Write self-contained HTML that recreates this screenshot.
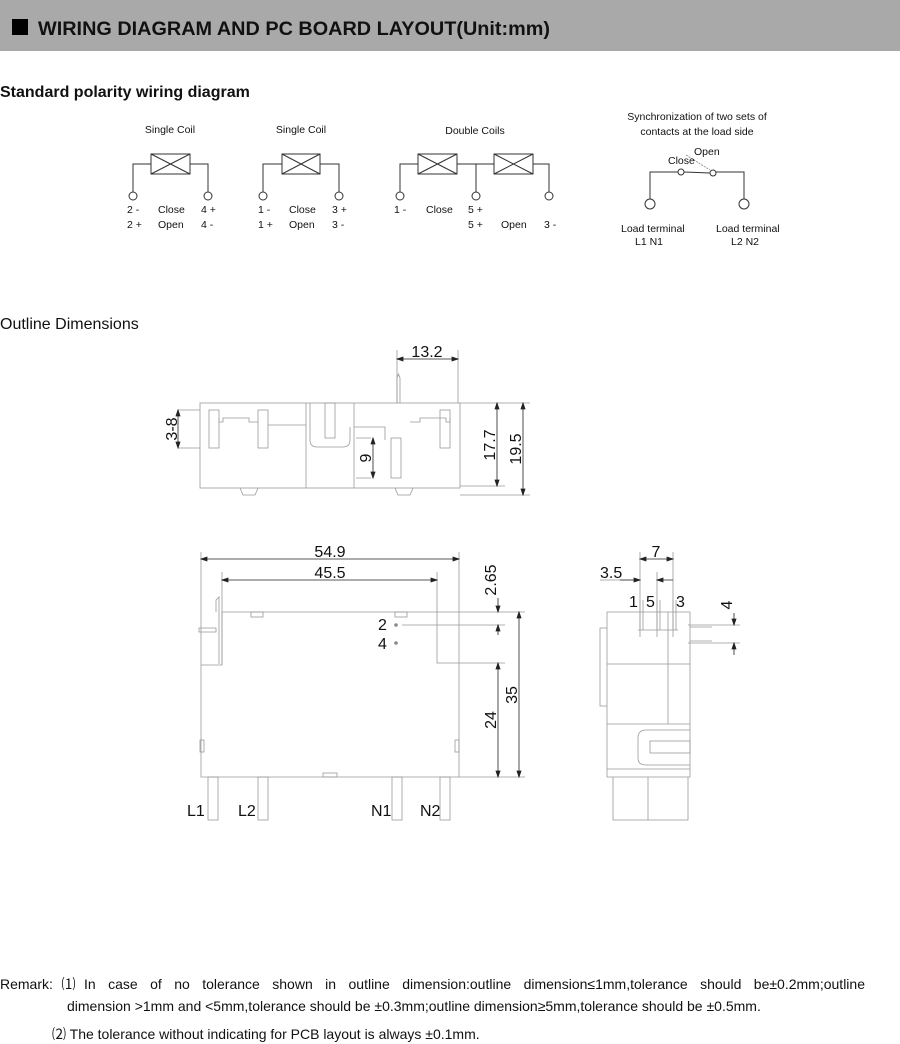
<!DOCTYPE html>
<html><head><meta charset="utf-8"><style>
body{margin:0;background:#fff;width:900px;height:1041px;overflow:hidden;font-family:"Liberation Sans",Arial,sans-serif}
svg{position:absolute;left:0;top:0}
.r{position:absolute;font-size:14px;color:#111;white-space:nowrap}
</style></head><body>
<svg width="900" height="1041" viewBox="0 0 900 1041" font-family="Liberation Sans, Arial, sans-serif">
<rect x="0" y="0" width="900" height="51" fill="#a9a9a9"/>
<rect x="12" y="19" width="16" height="16" fill="#000"/>
<text x="38" y="35" font-size="19" font-weight="bold" fill="#111" textLength="512" lengthAdjust="spacingAndGlyphs">WIRING DIAGRAM AND PC BOARD LAYOUT(Unit:mm)</text>
<text x="0" y="97" font-size="16" font-weight="bold" fill="#111">Standard polarity wiring diagram</text>

<g stroke="#333" stroke-width="1" fill="none">
<rect x="151" y="154" width="39" height="20"/><path d="M151 154L190 174M151 174L190 154"/>
<path d="M151 164H133V192M190 164H208V192"/>
<circle cx="133" cy="196" r="4"/><circle cx="208" cy="196" r="4"/>
<rect x="282" y="154" width="38" height="20"/><path d="M282 154L320 174M282 174L320 154"/>
<path d="M282 164H263V192M320 164H339V192"/>
<circle cx="263" cy="196" r="4"/><circle cx="339" cy="196" r="4"/>
<rect x="418" y="154" width="39" height="20"/><path d="M418 154L457 174M418 174L457 154"/>
<rect x="494" y="154" width="39" height="20"/><path d="M494 154L533 174M494 174L533 154"/>
<path d="M418 164H400V192M457 164H494M476 164V192M533 164H549V192"/>
<circle cx="400" cy="196" r="4"/><circle cx="476" cy="196" r="4"/><circle cx="549" cy="196" r="4"/>
<path d="M650 199V172H678M684 172L710 173M716 172H744V199"/>
<circle cx="681" cy="172" r="3"/><circle cx="713" cy="173" r="3"/>
<circle cx="650" cy="204" r="5"/><circle cx="744" cy="204" r="5"/>
<path d="M686 155L710 170" stroke="#999" stroke-dasharray="2,1"/>
</g>
<g font-size="10.5" fill="#111">
<text x="170" y="133" text-anchor="middle">Single Coil</text>
<text x="301" y="133" text-anchor="middle">Single Coil</text>
<text x="475" y="134" text-anchor="middle">Double Coils</text>
<text x="127" y="213">2 -</text><text x="158" y="213">Close</text><text x="201" y="213">4 +</text>
<text x="127" y="228">2 +</text><text x="158" y="228">Open</text><text x="201" y="228">4 -</text>
<text x="258" y="213">1 -</text><text x="289" y="213">Close</text><text x="332" y="213">3 +</text>
<text x="258" y="228">1 +</text><text x="289" y="228">Open</text><text x="332" y="228">3 -</text>
<text x="394" y="213">1 -</text><text x="426" y="213">Close</text><text x="468" y="213">5 +</text>
<text x="468" y="228">5 +</text><text x="501" y="228">Open</text><text x="544" y="228">3 -</text>
<text x="697" y="120" text-anchor="middle">Synchronization of two sets of</text>
<text x="697" y="135" text-anchor="middle">contacts at the load side</text>
<text x="668" y="164">Close</text><text x="694" y="155">Open</text>
<text x="621" y="232">Load terminal</text><text x="635" y="245">L1   N1</text>
<text x="716" y="232">Load terminal</text><text x="731" y="245">L2   N2</text>
</g>

<text x="0" y="329" font-size="16" fill="#111">Outline Dimensions</text>

<g stroke="#999" stroke-width="0.8" fill="none">
<rect x="200" y="403" width="260" height="85"/>
<path d="M306 403V488M354 403V488"/>
<path d="M200 410H178M200 448H178M371 438H356M371 478H356M460 403H530M460 486H505M460 495H530M397 350V403M458 350V403"/>
<path d="M397 403V378L398.5 374L400 378V403"/>
<rect x="209" y="410" width="10" height="38"/><rect x="258" y="410" width="10" height="38"/>
<rect x="440" y="410" width="10" height="38"/><rect x="325" y="403" width="10" height="35"/>
<rect x="391" y="438" width="10" height="40"/>
<path d="M219 418V422H223V418H249V422H258M268 425H306M354 427H385V440M450 418V422H446V418H420V422H410M310 403V440Q310 447 317 447H343Q350 447 350 440V427"/>
<path d="M240 488L243 495H255L258 488M395 488L398 495H410L413 488"/>
</g>
<g stroke="#222" stroke-width="0.8" fill="#222">
<path d="M397 359H458"/><path d="M397 359l6-2v4zM458 359l-6-2v4z"/>
<path d="M178 410V448"/><path d="M178 410l-2 6h4zM178 448l-2-6h4z"/>
<path d="M373 438V478"/><path d="M373 438l-2 6h4zM373 478l-2-6h4z"/>
<path d="M497 403V486"/><path d="M497 403l-2 6h4zM497 486l-2-6h4z"/>
<path d="M523 403V495"/><path d="M523 403l-2 6h4zM523 495l-2-6h4z"/>
</g>
<g font-size="16" fill="#111">
<text x="427" y="357" text-anchor="middle">13.2</text>
<text transform="translate(177 429) rotate(-90)" text-anchor="middle">3-8</text>
<text transform="translate(371 458) rotate(-90)" text-anchor="middle">9</text>
<text transform="translate(495 445) rotate(-90)" text-anchor="middle">17.7</text>
<text transform="translate(521 449) rotate(-90)" text-anchor="middle">19.5</text>
</g>

<g stroke="#999" stroke-width="0.8" fill="none">
<path d="M222 612H437V663H459V777H201V665H222Z"/>
<path d="M222 612V665M201 552V665M459 552V663M222 572V612M437 572V612M437 612H525M459 663H505M459 777H525M402 625H505"/>
<path d="M216 612V600L219 597V664"/><path d="M199 628H216V632H199Z"/>
<rect x="251" y="612" width="12" height="5"/><rect x="395" y="612" width="12" height="5"/>
<rect x="323" y="773" width="14" height="4"/><rect x="200" y="740" width="4" height="12"/><rect x="455" y="740" width="4" height="12"/>
<rect x="208" y="777" width="10" height="43"/><rect x="258" y="777" width="10" height="43"/>
<rect x="392" y="777" width="10" height="43"/><rect x="440" y="777" width="10" height="43"/>
</g>
<circle cx="396" cy="625" r="1.8" fill="#888"/><circle cx="396" cy="643" r="1.8" fill="#888"/>
<g stroke="#222" stroke-width="0.8" fill="#222">
<path d="M201 559H459"/><path d="M201 559l6-2v4zM459 559l-6-2v4z"/>
<path d="M222 580H437"/><path d="M222 580l6-2v4zM437 580l-6-2v4z"/>
<path d="M498 598V612M498 625V635"/><path d="M498 612l-2-6h4zM498 625l-2 6h4z"/>
<path d="M498 663V777"/><path d="M498 663l-2 6h4zM498 777l-2-6h4z"/>
<path d="M519 612V777"/><path d="M519 612l-2 6h4zM519 777l-2-6h4z"/>
</g>
<g font-size="16" fill="#111">
<text x="330" y="557" text-anchor="middle">54.9</text>
<text x="330" y="578" text-anchor="middle">45.5</text>
<text transform="translate(496 580) rotate(-90)" text-anchor="middle">2.65</text>
<text transform="translate(496 720) rotate(-90)" text-anchor="middle">24</text>
<text transform="translate(517 695) rotate(-90)" text-anchor="middle">35</text>
<text x="378" y="630">2</text><text x="378" y="649">4</text>
<text x="187" y="816">L1</text><text x="238" y="816">L2</text><text x="371" y="816">N1</text><text x="420" y="816">N2</text>
</g>

<g stroke="#999" stroke-width="0.8" fill="none">
<path d="M607 612H690V777H607Z"/><path d="M607 664H690M668 612V724M607 724H690M607 769H690"/>
<path d="M607 628H600V706H607"/>
<path d="M690 730H646Q638 730 638 738V758Q638 765 646 765H690"/><rect x="650" y="741" width="40" height="12"/>
<path d="M613 777V820H688V777M648 777V820"/>
<path d="M640 552V637M657 572V637M673 552V637M600 580H640"/>
<path d="M640 600V630M643 600V630M657 600V630M660 600V630M673 600V630M676 600V630M638 630H678"/>
<path d="M688 625H715M688 643H715M690 627H712M690 641H712M715 625H740M715 643H740"/>
</g>
<g stroke="#222" stroke-width="0.8" fill="#222">
<path d="M640 559H673"/><path d="M640 559l6-2v4zM673 559l-6-2v4z"/>
<path d="M620 580H640M657 580H673"/><path d="M640 580l-6-2v4zM657 580l6-2v4z"/>
<path d="M734 613V625M734 643V655"/><path d="M734 625l-2-6h4zM734 643l-2 6h4z"/>
</g>
<g font-size="16" fill="#111">
<text x="656" y="557" text-anchor="middle">7</text>
<text x="600" y="578">3.5</text>
<text x="629" y="607">1</text><text x="646" y="607">5</text><text x="676" y="607">3</text>
<text transform="translate(732 605) rotate(-90)" text-anchor="middle">4</text>
</g>
</svg>
<div class="r" style="left:0;top:974px;width:865px;text-align:justify;text-align-last:justify">Remark:⑴In case of no tolerance shown in outline dimension:outline dimension≤1mm,tolerance should be±0.2mm;outline</div>
<div class="r" style="left:67px;top:998px">dimension &gt;1mm and &lt;5mm,tolerance should be ±0.3mm;outline dimension≥5mm,tolerance should be ±0.5mm.</div>
<div class="r" style="left:52px;top:1024px">⑵ The tolerance without indicating for PCB layout is always ±0.1mm.</div>
</body></html>
